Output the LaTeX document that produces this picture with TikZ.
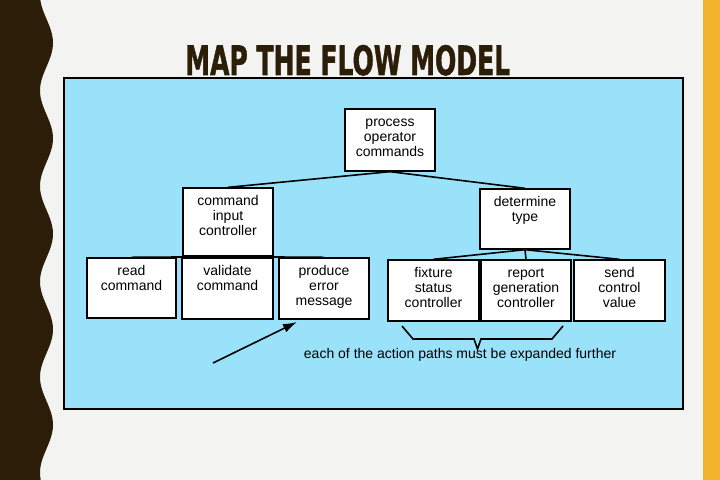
\documentclass[tikz,border=0pt]{standalone}
\usepackage{fontspec}
\setmainfont{Liberation Sans}
\newfontfamily\titlefont[BoldFeatures={FakeBold=1.5}]{DejaVu Sans}
\usetikzlibrary{arrows.meta}

\definecolor{slidebg}{HTML}{F3F3F1}
\definecolor{bandbrown}{HTML}{2B1D07}
\definecolor{sideorange}{HTML}{F2B42C}
\definecolor{panelblue}{HTML}{9AE2FA}

\begin{document}
\begin{tikzpicture}[x=1bp, y=-1bp,
  box/.style={draw=black, line width=1.6bp, fill=white, inner sep=0pt},
  boxtext/.style={anchor=north, align=center, inner sep=0pt, yshift=-7bp,
    font=\fontsize{14bp}{15bp}\selectfont},
  link/.style={line width=1.6bp}]
  \useasboundingbox (0, 0) rectangle (720, 480);
  \fill[slidebg] (0, 0) rectangle (720, 480);

  \fill[bandbrown] (0, 0) -- plot[domain = 0:480, samples = 160]
    ({46.5 + 6.5*sin(3.7696*(\x - 19))}, \x) -- (0, 480) -- cycle;
  \fill[sideorange] (703, 0) rectangle (720, 480);

  \node[anchor = base west, inner sep = 0pt, text = bandbrown] (title) at (185, 75)
    {\resizebox{325bp}{30bp}{\titlefont\bfseries MAP THE FLOW MODEL}};

  \draw[line width = 2bp, fill = panelblue] (64, 78) rectangle (683, 409);

  \node[box, minimum width = 90, minimum height = 62,
    label = {[boxtext]north:{\strut process\\operator\\commands}}] (proc) at (390, 140) {};

  \node[box, minimum width = 90, minimum height = 68,
    label = {[boxtext]north:{\strut command\\input\\controller}}] (cic) at (228, 222) {};
  \node[box, minimum width = 90, minimum height = 60,
    label = {[boxtext]north:{\strut determine\\type}}] (dtype) at (525, 219) {};

  \node[box, minimum width = 89, minimum height = 60,
    label = {[boxtext]north:{\strut read\\command}}] (read) at (131.5, 288) {};
  \node[box, minimum width = 91, minimum height = 61,
    label = {[boxtext]north:{\strut validate\\command}}] (valid) at (227.5, 288.5) {};
  \node[box, minimum width = 90, minimum height = 61,
    label = {[boxtext]north:{\strut produce\\error\\message}}] (prod) at (324, 288.5) {};

  \node[box, minimum width = 91, minimum height = 61,
    label = {[boxtext]north:{\strut fixture\\status\\controller}}] (fix) at (433.5, 290.5) {};
  \node[box, minimum width = 90, minimum height = 61,
    label = {[boxtext]north:{\strut report\\generation\\controller}}] (rep) at (526, 290.5) {};
  \node[box, minimum width = 91, minimum height = 61,
    label = {[boxtext]north:{\strut send\\control\\value}}] (send) at (619.5, 290.5) {};

  \draw[link] (proc.south) -- (cic.north);
  \draw[link] (proc.south) -- (dtype.north);

  \draw[link] (cic.south) -- (read.north);
  \draw[link] (cic.south) -- (valid.north);
  \draw[link] (cic.south) -- (prod.north);

  \draw[link] (dtype.south) -- (fix.north);
  \draw[link] (dtype.south) -- (rep.north);
  \draw[link] (dtype.south) -- (send.north);

  \coordinate (tail) at (213, 363);
  \coordinate (tip) at (297, 322);
  \draw[link, -{Latex[length = 14bp, width = 9bp]}] (tail) -- (tip);

  \draw[link]
    (402, 326) -- (413, 339) -- (474, 339) -- (477.5, 349)
    -- (481, 339) -- (552, 339) -- (563, 326);

  \node[anchor = base, inner sep = 0pt, font = \fontsize{14bp}{15bp}\selectfont]
    (note) at (460, 358) {each of the action paths must be expanded further};
\end{tikzpicture}
\end{document}
